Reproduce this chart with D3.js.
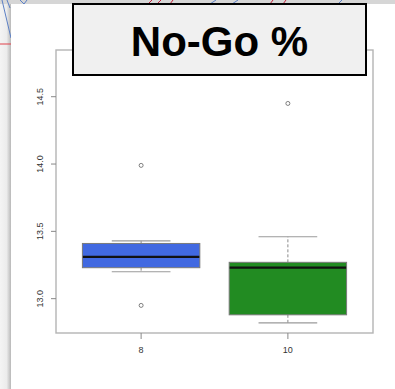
<!DOCTYPE html>
<html>
<head>
<meta charset="utf-8">
<script src="https://cdn.jsdelivr.net/npm/d3@7/dist/d3.min.js"></script>
<style>
  html, body { margin: 0; padding: 0; background: #ffffff; }
  svg { display: block; }
</style>
</head>
<body>
<script>
// Box-plot summary per group
const categories   = ["8", "10"];
const lowerWhisker = [13.20, 12.82];
const q1           = [13.23, 12.88];
const median       = [13.31, 13.23];
const q3           = [13.41, 13.27];
const upperWhisker = [13.43, 13.46];
const outliers     = [[12.95, 13.99], [14.45]];
const boxColors    = ["#4169e1", "#228b22"];
const yTicks       = [13.0, 13.5, 14.0, 14.5];
const titleText    = "No-Go %";

const W = 395, H = 389;
const svg = d3.select("body").append("svg").attr("width", W).attr("height", H);

// window chrome behind the panel
const defs = svg.append("defs");
const lg = defs.append("linearGradient").attr("id", "shade").attr("x1", 0).attr("x2", 1);
lg.append("stop").attr("offset", "0%").attr("stop-color", "#f4f4f4");
lg.append("stop").attr("offset", "60%").attr("stop-color", "#ececec");
lg.append("stop").attr("offset", "100%").attr("stop-color", "#b8b8b8");
svg.append("rect").attr("x", 0).attr("y", 0).attr("width", W).attr("height", H).attr("fill", "#f2f2f2");
svg.append("rect").attr("x", 0).attr("y", 0).attr("width", 11).attr("height", H).attr("fill", "url(#shade)");
svg.append("rect").attr("x", 0).attr("y", 0).attr("width", W).attr("height", 4).attr("fill", "#d6d6d6");
const deco = svg.append("g").attr("fill", "none").attr("stroke-width", 1);
deco.append("path").attr("d", "M2,0 L11,38").attr("stroke", "#5b7fc4");
deco.append("path").attr("d", "M7,0 L10,8").attr("stroke", "#5b7fc4");
deco.append("path").attr("d", "M0,44 L11,44").attr("stroke", "#e0404a");
deco.append("path").attr("d", "M20,0 L24,4 L27,0").attr("stroke", "#5b7fc4");
deco.append("path").attr("d", "M148,4 L152,0 M157,4 L161,0 M170,4 L173,0").attr("stroke", "#c0203a");
deco.append("path").attr("d", "M210,4 L216,0 M232,4 L238,0 M338,4 L342,0").attr("stroke", "#5b7fc4");
deco.append("path").attr("d", "M270,4 L273,0 M283,4 L286,0").attr("stroke", "#c0203a");
// white chart panel
svg.append("rect").attr("x", 11).attr("y", 4).attr("width", W - 11).attr("height", H - 4).attr("fill", "#ffffff");

// plot region
const plotL = 56, plotR = 373, plotT = 50, plotB = 333;
const x = d3.scaleLinear().domain([0.42, 2.58]).range([plotL, plotR]);
const y = d3.scaleLinear().domain([12.745, 14.847]).range([plotB, plotT]);
const boxW = x(1.4) - x(0.6);
const capW = boxW / 2;

const plot = svg.append("g");
const groups = categories.map((c, i) => ({
  c, pos: i + 1, lo: lowerWhisker[i], q1: q1[i], med: median[i], q3: q3[i], hi: upperWhisker[i],
  out: outliers[i], color: boxColors[i]
}));

const g = plot.selectAll("g.box").data(groups).join("g").attr("class", "box");
// dashed whiskers
g.append("line").attr("x1", d => x(d.pos)).attr("x2", d => x(d.pos))
  .attr("y1", d => y(d.q3)).attr("y2", d => y(d.hi))
  .attr("stroke", "#8a8a8a").attr("stroke-dasharray", "3,2");
g.append("line").attr("x1", d => x(d.pos)).attr("x2", d => x(d.pos))
  .attr("y1", d => y(d.q1)).attr("y2", d => y(d.lo))
  .attr("stroke", "#8a8a8a").attr("stroke-dasharray", "3,2");
// whisker caps
g.append("line").attr("x1", d => x(d.pos) - capW / 2).attr("x2", d => x(d.pos) + capW / 2)
  .attr("y1", d => y(d.hi)).attr("y2", d => y(d.hi)).attr("stroke", "#9a9a9a").attr("stroke-width", 1.2);
g.append("line").attr("x1", d => x(d.pos) - capW / 2).attr("x2", d => x(d.pos) + capW / 2)
  .attr("y1", d => y(d.lo)).attr("y2", d => y(d.lo)).attr("stroke", "#9a9a9a").attr("stroke-width", 1.2);
// boxes
g.append("rect").attr("x", d => x(d.pos) - boxW / 2).attr("width", boxW)
  .attr("y", d => y(d.q3)).attr("height", d => y(d.q1) - y(d.q3))
  .attr("fill", d => d.color).attr("stroke", "#7a7a7a").attr("stroke-width", 1);
// medians
g.append("line").attr("x1", d => x(d.pos) - boxW / 2 + 0.5).attr("x2", d => x(d.pos) + boxW / 2 - 0.5)
  .attr("y1", d => y(d.med)).attr("y2", d => y(d.med)).attr("stroke", "#111").attr("stroke-width", 2.2);
// outliers
g.selectAll("circle").data(d => d.out.map(v => ({ pos: d.pos, v }))).join("circle")
  .attr("cx", d => x(d.pos)).attr("cy", d => y(d.v)).attr("r", 2)
  .attr("fill", "none").attr("stroke", "#707070").attr("stroke-width", 0.9);

// frame
plot.append("rect").attr("x", plotL).attr("y", plotT).attr("width", plotR - plotL).attr("height", plotB - plotT)
  .attr("fill", "none").attr("stroke", "#b4b4b4").attr("stroke-width", 1.4);

// y axis
const yAx = svg.append("g").attr("font-family", "Liberation Sans, Arial, sans-serif").attr("font-size", 9).attr("fill", "#333");
yTicks.forEach(t => {
  yAx.append("line").attr("x1", plotL - 5).attr("x2", plotL).attr("y1", y(t)).attr("y2", y(t)).attr("stroke", "#888");
  yAx.append("text").attr("transform", `translate(${43},${y(t)}) rotate(-90)`)
    .attr("text-anchor", "middle").text(d3.format(".1f")(t));
});

// x axis
const xAx = svg.append("g").attr("font-family", "Liberation Sans, Arial, sans-serif").attr("font-size", 9).attr("fill", "#333");
groups.forEach(d => {
  xAx.append("line").attr("x1", x(d.pos)).attr("x2", x(d.pos)).attr("y1", plotB).attr("y2", plotB + 6).attr("stroke", "#888");
  xAx.append("text").attr("x", x(d.pos)).attr("y", 353).attr("text-anchor", "middle").text(d.c);
});

// title box
svg.append("rect").attr("x", 73).attr("y", 4).attr("width", 293).attr("height", 71)
  .attr("fill", "#f0f0f0").attr("stroke", "#000").attr("stroke-width", 2);
svg.append("text").attr("x", 219.5).attr("y", 56).attr("text-anchor", "middle")
  .attr("font-family", "Liberation Sans, Arial, sans-serif").attr("font-weight", "bold")
  .attr("font-size", 42).attr("fill", "#000").text(titleText);
</script>
</body>
</html>
